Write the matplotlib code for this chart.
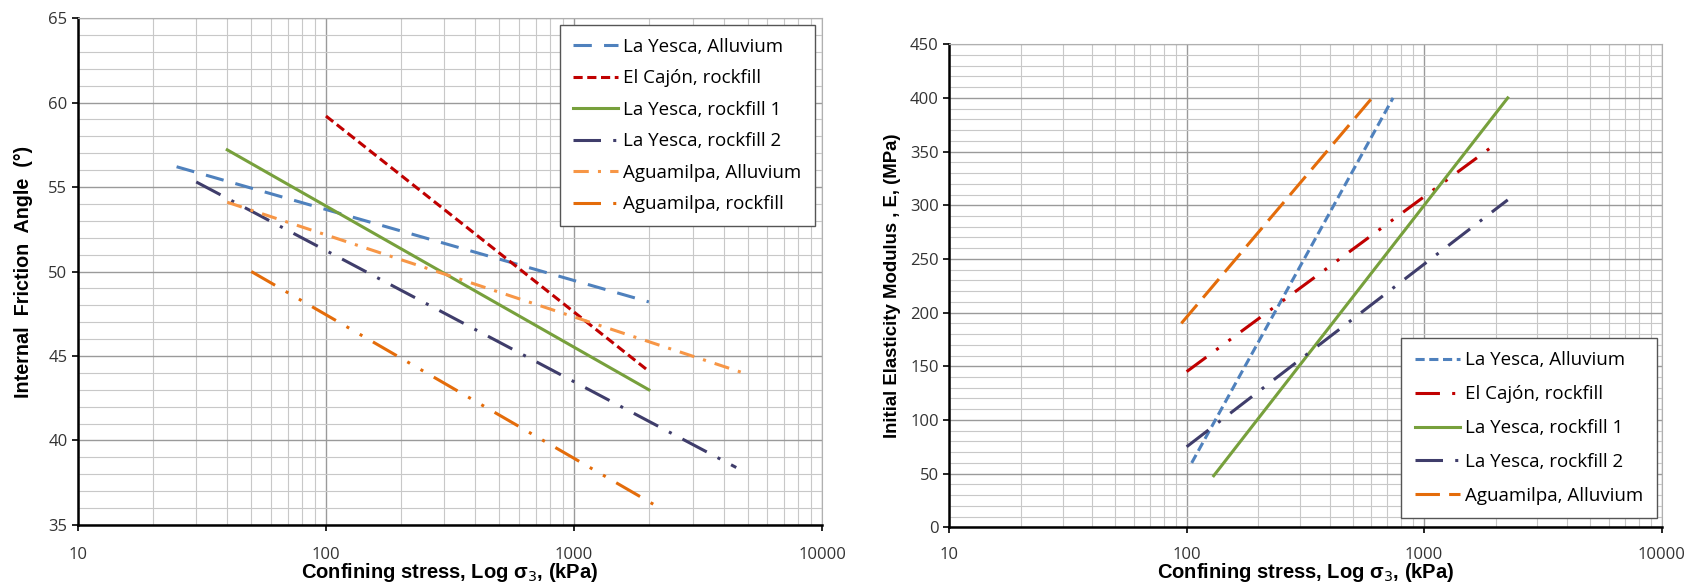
import matplotlib.pyplot as plt
from matplotlib.ticker import MultipleLocator, LogLocator, NullFormatter, FixedLocator, FixedFormatter

# Left chart: internal friction angle vs confining stress (line end points)
phi_names = ['La Yesca, Alluvium', 'El Cajón, rockfill', 'La Yesca, rockfill 1',
             'La Yesca, rockfill 2', 'Aguamilpa, Alluvium', 'Aguamilpa, rockfill']
phi_x = [[25, 2000], [100, 2000], [40, 2000], [30, 4500], [40, 4800], [50, 2100]]
phi_y = [[56.2, 48.2], [59.2, 44.1], [57.2, 43.0], [55.3, 38.4], [54.1, 44.0], [50.0, 36.2]]

# Right chart: initial elasticity modulus vs confining stress
e_names = ['La Yesca, Alluvium', 'El Cajón, rockfill', 'La Yesca, rockfill 1',
           'La Yesca, rockfill 2', 'Aguamilpa, Alluvium']
e_x = [[105, 740], [100, 2000], [130, 2250], [100, 2250], [95, 620]]
e_y = [[60, 400], [145, 357], [48, 400], [75, 305], [190, 403]]

x_ticks = [10, 100, 1000, 10000]
x_tick_labels = ['10', '100', '1000', '10000']

blue = '#4F81BD'
red = '#C00000'
green = '#77A03C'
navy = '#3F3D6B'
orange = '#F79646'
dorange = '#E46C0A'

phi_styles = [
    dict(color=blue, dashes=(6, 4)),
    dict(color=red, dashes=(3, 1.5)),
    dict(color=green, linestyle='-'),
    dict(color=navy, dashes=(9, 4, 1, 4)),
    dict(color=orange, dashes=(5, 3, 1, 3)),
    dict(color=dorange, dashes=(9, 4, 1, 4, 1, 4)),
]
e_styles = [
    dict(color=blue, dashes=(3, 1.5)),
    dict(color=red, dashes=(8, 4, 1, 4, 1, 4)),
    dict(color=green, linestyle='-'),
    dict(color=navy, dashes=(9, 4, 1, 4)),
    dict(color=dorange, dashes=(8, 3)),
]

tick_font = 'Open Sans'
label_font = 'Liberation Sans'

fig = plt.figure(figsize=(16.92, 5.82), dpi=100)
ax1 = fig.add_axes([0.046, 0.098, 0.440, 0.871])
ax2 = fig.add_axes([0.561, 0.094, 0.421, 0.830])


def style_axes(ax, ymin, ymax, ymajor, yminor, xlab_y, xpad):
    ax.set_xscale('log')
    ax.set_xlim(10, 10000)
    ax.set_ylim(ymin, ymax)
    ax.xaxis.set_major_locator(FixedLocator(x_ticks))
    ax.xaxis.set_major_formatter(FixedFormatter(x_tick_labels))
    ax.xaxis.set_minor_locator(LogLocator(base=10, subs=range(2, 10)))
    ax.xaxis.set_minor_formatter(NullFormatter())
    ax.yaxis.set_major_locator(MultipleLocator(ymajor))
    ax.yaxis.set_minor_locator(MultipleLocator(yminor))
    ax.grid(which='major', color='#9a9a9a', linewidth=1.0)
    ax.grid(which='minor', color='#c8c8c8', linewidth=0.8)
    ax.set_axisbelow(True)
    for s in ['top', 'right']:
        ax.spines[s].set_color('#b0b0b0')
        ax.spines[s].set_linewidth(0.8)
    for s in ['left', 'bottom']:
        ax.spines[s].set_color('black')
        ax.spines[s].set_linewidth(1.8)
    ax.tick_params(which='major', direction='out', length=4, width=1.2)
    ax.tick_params(which='minor', length=0)
    ax.tick_params(axis='x', pad=xpad)
    for lab in ax.get_xticklabels() + ax.get_yticklabels():
        lab.set_fontfamily(tick_font)
        lab.set_fontsize(12)
        lab.set_color('#333333')
    ax.set_xlabel('Confining stress, Log σ$_3$, (kPa)', family=label_font,
                  fontweight='bold', fontsize=14.5, va='center')
    ax.xaxis.set_label_coords(0.5, xlab_y)


leg_kw = dict(prop={'family': tick_font, 'size': 13.5}, fancybox=False,
              edgecolor='#555555', framealpha=1, handlelength=2.4,
              handletextpad=0.3, borderaxespad=0, borderpad=0.7)

style_axes(ax1, 35, 65, 5, 1, -0.093, 12)
for name, xs, ys, st in zip(phi_names, phi_x, phi_y, phi_styles):
    ax1.plot(xs, ys, linewidth=2.2, label=name, **st)
ax1.set_ylabel('Internal  Friction  Angle  (°)', family=label_font,
               fontweight='bold', fontsize=14.2, va='center')
ax1.yaxis.set_label_coords(-0.073, 0.5)
ax1.legend(loc='upper right', bbox_to_anchor=(0.99, 0.987), labelspacing=0.72, **leg_kw)

style_axes(ax2, 0, 450, 50, 10, -0.094, 10.5)
for name, xs, ys, st in zip(e_names, e_x, e_y, e_styles):
    ax2.plot(xs, ys, linewidth=2.2, label=name, **st)
ax2.set_ylabel('Initial Elasticity Modulus , E, (MPa)', family=label_font,
               fontweight='bold', fontsize=13.4, va='center')
ax2.yaxis.set_label_coords(-0.080, 0.5)
ax2.legend(loc='lower right', bbox_to_anchor=(0.993, 0.019), labelspacing=0.85, **leg_kw)

fig.savefig('out.png', dpi=100)
